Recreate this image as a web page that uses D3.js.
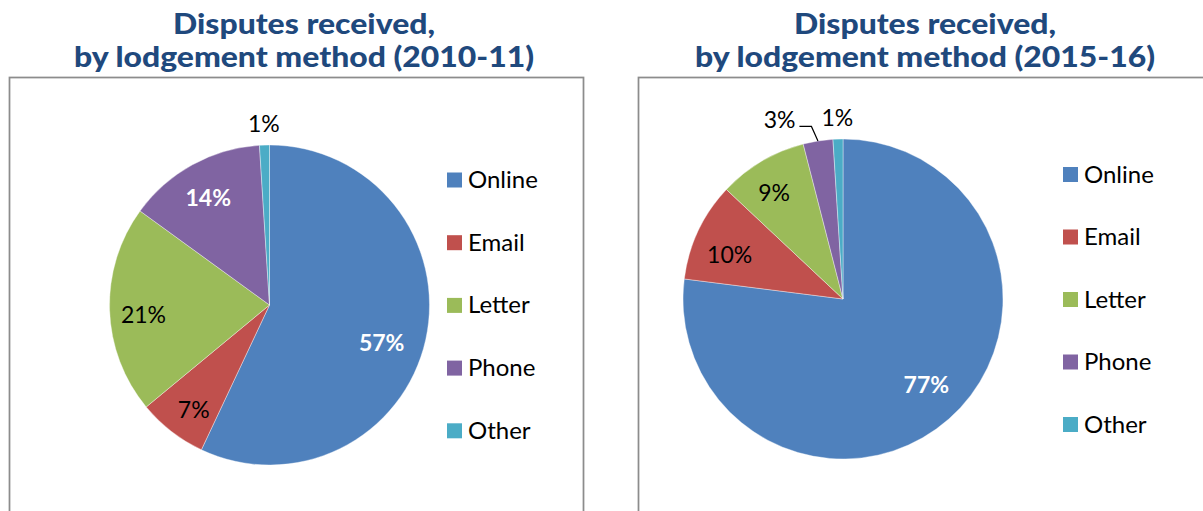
<!DOCTYPE html>
<html>
<head>
<meta charset="utf-8">
<script src="https://cdn.jsdelivr.net/npm/d3@7"></script>
<style>
  body { margin: 0; background: #fff; }
  text { font-family: Lato, "Open Sans", sans-serif; }
</style>
</head>
<body>
<svg id="chart" width="1203" height="511"></svg>
<script>
// data
const categories = ["Online", "Email", "Letter", "Phone", "Other"];
const share2010 = [57, 7, 21, 14, 1];
const share2015 = [77, 10, 9, 3, 1];
const title2010 = ["Disputes received,", "by lodgement method (2010-11)"];
const title2015 = ["Disputes received,", "by lodgement method (2015-16)"];

const colors = ["#4F81BD", "#C0504D", "#9BBB59", "#8064A2", "#4BACC6"];

// layout of each panel (positions relative to panel box)
const panels = [
    {
        values: share2010, title: title2010,
        box: { x: 9, y: 77, w: 574, h: 460 },
        titleX: 295,
        cx: 260.5, cy: 228, r: 160,
        legendX: 438, legendY: 103, legendStep: 62.7,
        whiteLabels: ["Online", "Phone"],
        labelK: [0.74, 0.81, 0.79, 0.77, 1],
        labelDa: [6, -2, -2.5, -1, 0]
    },
    {
        values: share2015, title: title2015,
        box: { x: 638, y: 77, w: 574, h: 460 },
        titleX: 287,
        cx: 205, cy: 222, r: 160,
        legendX: 425, legendY: 97.5, legendStep: 62.5,
        whiteLabels: ["Online"],
        labelK: [0.75, 0.76, 0.79, 1, 1],
        labelDa: [-2.6, -4, -2.4, 0, 0]
    }
];

const svg = d3.select("#chart");
const color = d3.scaleOrdinal().domain(categories).range(colors);
const labelSize = 23;
const capShift = labelSize * 0.35;

const pie = d3.pie()
    .sort(null)
    .startAngle(0)
    .endAngle(2 * Math.PI)
    .value(d => d.value);

const drawPanel = (p) => {
    const data = categories.map((c, i) => ({ name: c, value: p.values[i], idx: i }));
    const arcs = pie(data);

    // titles sit above the box
    const title = svg.append("g")
        .attr("transform", `translate(${p.box.x + p.titleX},0)`);
    const tlen = [262, 460];
    title.selectAll("text")
        .data(p.title)
        .join("text")
        .attr("x", 0)
        .attr("y", (d, i) => 34 + i * 33)
        .attr("text-anchor", "middle")
        .attr("font-size", 28.5)
        .attr("font-weight", 900)
        .attr("fill", "#1F497D")
        .attr("textLength", (d, i) => tlen[i])
        .attr("lengthAdjust", "spacingAndGlyphs")
        .text(d => d);

    const g = svg.append("g")
        .attr("transform", `translate(${p.box.x},${p.box.y})`);

    g.append("rect")
        .attr("x", 0.5).attr("y", 0.5)
        .attr("width", p.box.w).attr("height", p.box.h)
        .attr("fill", "none")
        .attr("stroke", "#8c8c8c")
        .attr("stroke-width", 1.75);

    const pieG = g.append("g")
        .attr("transform", `translate(${p.cx},${p.cy})`);

    const arc = d3.arc().innerRadius(0).outerRadius(p.r);

    pieG.selectAll("path")
        .data(arcs)
        .join("path")
        .attr("d", arc)
        .attr("fill", d => color(d.data.name))
        .attr("stroke", "rgba(255,255,255,0.55)")
        .attr("stroke-width", 0.7);

    // inside labels for bigger slices
    const polar = (ang, rad) => [Math.sin(ang) * rad, -Math.cos(ang) * rad];
    const inside = arcs.filter(d => d.data.value >= 5);
    pieG.selectAll("text.in")
        .data(inside)
        .join("text")
        .attr("class", "in")
        .each(function (d) {
            const i = d.data.idx;
            const mid = (d.startAngle + d.endAngle) / 2 + p.labelDa[i] * Math.PI / 180;
            const [x, y] = polar(mid, p.r * p.labelK[i]);
            const white = p.whiteLabels.includes(d.data.name);
            d3.select(this)
                .attr("x", x)
                .attr("y", y + capShift)
                .attr("text-anchor", "middle")
                .attr("font-size", labelSize)
                .attr("font-weight", white ? 700 : 400)
                .attr("fill", white ? "#fff" : "#000")
                .text(d.data.value + "%");
        });

    // outside labels, placed from the last slice backwards, pushed left when they collide
    const outside = arcs.filter(d => d.data.value < 5).reverse();
    let prevLeft = null;
    outside.forEach(d => {
        const mid = (d.startAngle + d.endAngle) / 2;
        let [x, y] = polar(mid, p.r * 1.13);
        const t = pieG.append("text")
            .attr("text-anchor", "middle")
            .attr("font-size", labelSize)
            .attr("fill", "#000")
            .text(d.data.value + "%");
        const w = t.node().getComputedTextLength();
        let left = x - w / 2;
        if (prevLeft !== null && x + w / 2 > prevLeft - 4) {
            const right = prevLeft - 26;
            x = right - w / 2;
            left = right - w;
            const edge = polar(mid, p.r);
            const ly = y + 6;
            pieG.append("path")
                .attr("d", d3.line()([[right + 4, ly], [right + 16, ly], edge]))
                .attr("fill", "none")
                .attr("stroke", "#000")
                .attr("stroke-width", 1.2);
        }
        t.attr("x", x).attr("y", y + capShift);
        prevLeft = left;
    });

    // legend
    const legend = g.append("g")
        .attr("transform", `translate(${p.legendX},${p.legendY})`);
    const item = legend.selectAll("g")
        .data(categories)
        .join("g")
        .attr("transform", (d, i) => `translate(0,${i * p.legendStep})`);
    item.append("rect")
        .attr("x", 0).attr("y", -7.5)
        .attr("width", 15).attr("height", 15)
        .attr("fill", d => color(d));
    item.append("text")
        .attr("x", 21)
        .attr("y", 8)
        .attr("font-size", 24)
        .attr("fill", "#000")
        .text(d => d);
};

panels.forEach(drawPanel);
</script>
</body>
</html>
